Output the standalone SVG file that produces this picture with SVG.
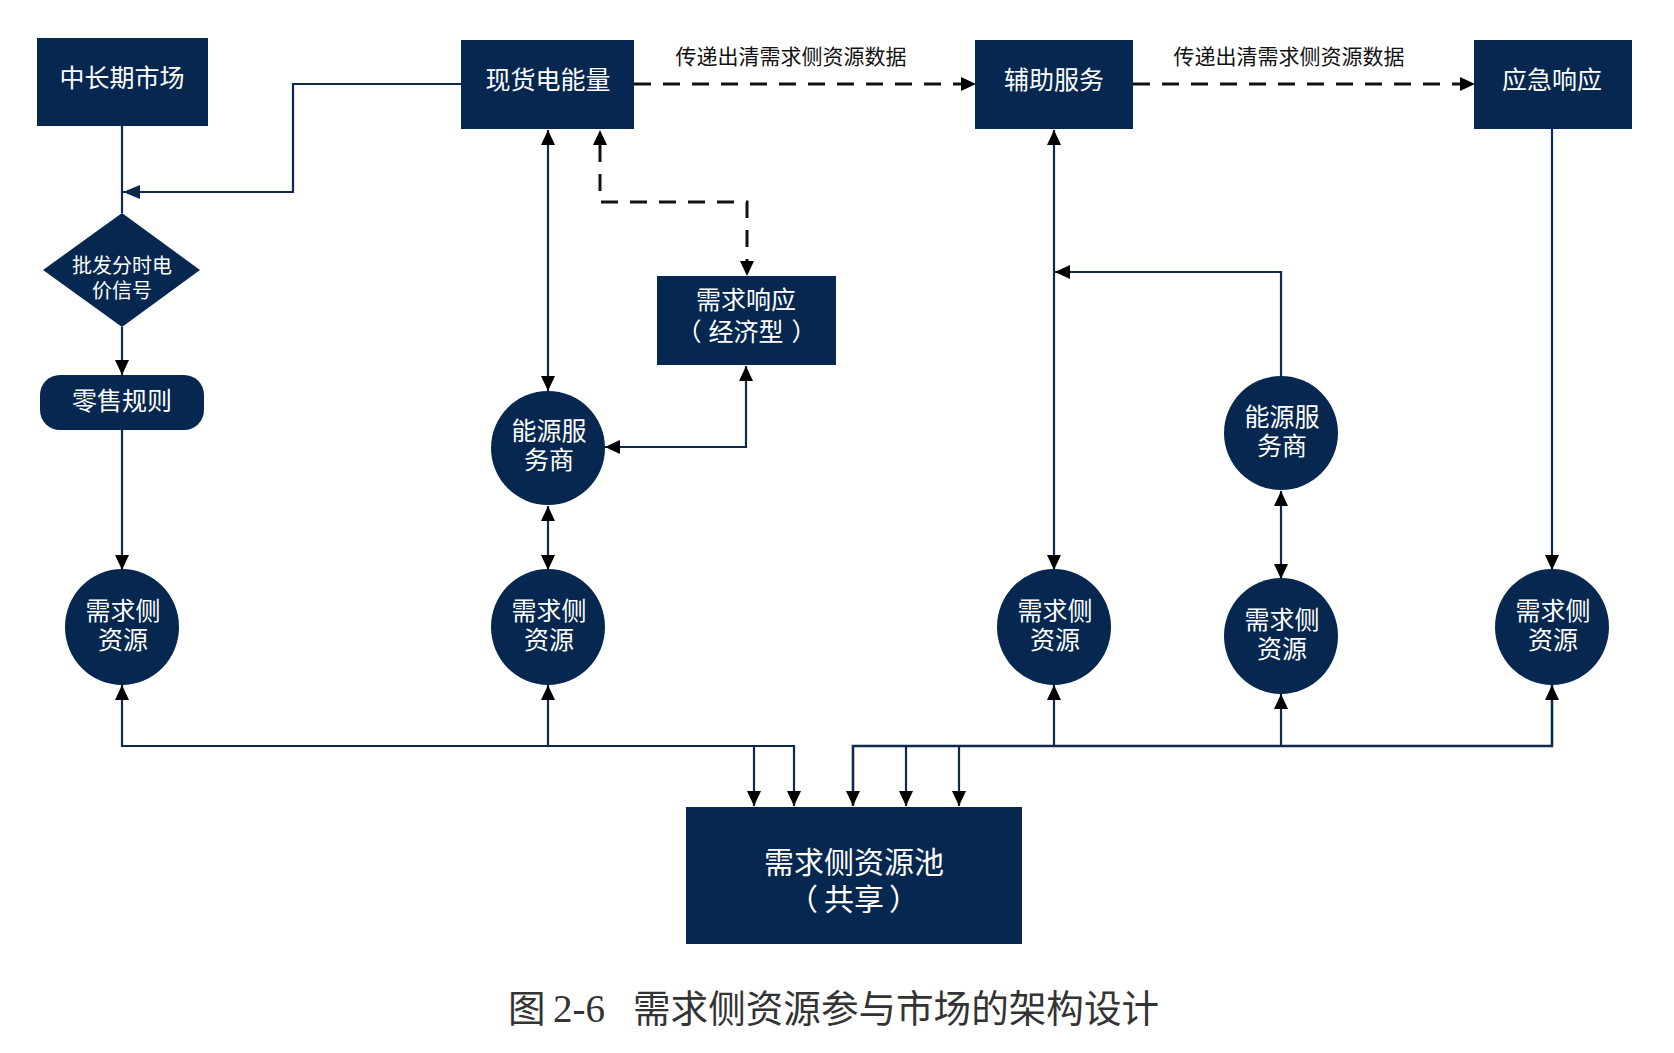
<svg xmlns="http://www.w3.org/2000/svg" width="1674" height="1053" viewBox="0 0 1674 1053">
<style>
.n{fill:#06274F;}
.t{fill:#fff;font-family:"Noto Sans CJK SC","Noto Sans",sans-serif;font-size:25px;text-anchor:middle;dominant-baseline:central;}
.ts{font-size:20px;}
.tp{font-size:30px;}
.lbl{fill:#111;font-family:"Noto Sans CJK SC","Noto Sans",sans-serif;font-size:21px;text-anchor:middle;dominant-baseline:central;}
.c{fill:none;stroke:#0D2A4E;stroke-width:2.2;}
.d{fill:none;stroke:#111;stroke-width:3;stroke-dasharray:17 12;}
.cap{fill:#333;font-size:37.6px;dominant-baseline:alphabetic;}
</style>
<defs>
<marker id="ab" markerUnits="userSpaceOnUse" markerWidth="16" markerHeight="16" viewBox="0 0 16 16" refX="15" refY="8" orient="auto-start-reverse">
<path d="M0,1 L15,8 L0,15 z" fill="#000"/>
</marker>
<marker id="an" markerUnits="userSpaceOnUse" markerWidth="18" markerHeight="16" viewBox="0 0 18 16" refX="17" refY="8" orient="auto-start-reverse">
<path d="M0,1 L17,8 L0,15 z" fill="#0D2A4E"/>
</marker>
</defs>
<rect width="1674" height="1053" fill="#fff"/>

<g id="connectors">
<path class="c" d="M461,84 H293 V192 H123" marker-end="url(#an)"/>
<path class="c" d="M122,126 V213"/>
<path class="c" d="M122,327 V375" marker-end="url(#ab)"/>
<path class="c" d="M122,430 V570" marker-end="url(#ab)"/>
<path class="c" d="M548,130 V391" marker-start="url(#ab)" marker-end="url(#ab)"/>
<path class="c" d="M548,506 V570" marker-start="url(#ab)" marker-end="url(#ab)"/>
<path class="c" d="M746,366 V447 H605" marker-start="url(#ab)" marker-end="url(#ab)"/>
<path class="d" d="M600,145 V202 H747 V262"/>
<path d="M600,130 L593,145 L607,145 z" fill="#000"/>
<path d="M747,276 L740,261 L754,261 z" fill="#000"/>
<path class="d" d="M634,84 H962"/>
<path d="M976,84 L961,77 L961,91 z" fill="#000"/>
<path class="d" d="M1133,84 H1461"/>
<path d="M1475,84 L1460,77 L1460,91 z" fill="#000"/>
<path class="c" d="M1054,130 V570" marker-start="url(#ab)" marker-end="url(#ab)"/>
<path class="c" d="M1281,376 V272 H1055" marker-end="url(#ab)"/>
<path class="c" d="M1281,491 V579" marker-start="url(#ab)" marker-end="url(#ab)"/>
<path class="c" d="M1552,129 V570" marker-end="url(#ab)"/>
<path class="c" d="M122,685 V746 H794 V806" marker-start="url(#ab)" marker-end="url(#ab)"/>
<path class="c" d="M548,685 V746" marker-start="url(#ab)"/>
<path class="c" d="M754,746 V806" marker-end="url(#ab)"/>
<path class="c" d="M1552,685 V746 H853 V806" marker-start="url(#ab)" marker-end="url(#ab)" style="stroke-width:2.6"/>
<path class="c" d="M1054,685 V746" marker-start="url(#ab)"/>
<path class="c" d="M1281,694 V746" marker-start="url(#ab)"/>
<path class="c" d="M906,746 V806" marker-end="url(#ab)"/>
<path class="c" d="M959,746 V806" marker-end="url(#ab)"/>
</g>

<g id="lbl1"><text class="lbl" x="791" y="55">传递出清需求侧资源数据</text></g>
<g id="lbl2"><text class="lbl" x="1289" y="55">传递出清需求侧资源数据</text></g>

<g id="n-zhongchangqi"><rect class="n" x="37" y="38" width="171" height="88"/><text class="t" x="122" y="76">中长期市场</text></g>
<g id="n-xianhuo"><rect class="n" x="461" y="40" width="173" height="89"/><text class="t" x="548" y="78">现货电能量</text></g>
<g id="n-fuzhu"><rect class="n" x="975" y="40" width="158" height="89"/><text class="t" x="1054" y="78">辅助服务</text></g>
<g id="n-yingji"><rect class="n" x="1474" y="40" width="158" height="89"/><text class="t" x="1552" y="78">应急响应</text></g>

<g id="n-pifa"><path class="n" d="M122,213 L200,270 L122,327 L43,270 z"/><text class="t ts"><tspan x="122" y="264">批发分时电</tspan><tspan x="122" y="289">价信号</tspan></text></g>
<g id="n-lingshou"><rect class="n" x="40" y="375" width="164" height="55" rx="20"/><text class="t" x="122" y="399">零售规则</text></g>

<g id="n-xuqiuxiangying"><rect class="n" x="657" y="276" width="179" height="89"/><text class="t"><tspan x="746" y="298">需求响应</tspan><tspan x="689" y="330">（</tspan><tspan x="746" y="330">经济型</tspan><tspan x="804" y="330">）</tspan></text></g>

<g id="n-nengyuan1"><ellipse class="n" cx="548" cy="448" rx="57" ry="57"/><text class="t"><tspan x="549" y="429">能源服</tspan><tspan x="549" y="458">务商</tspan></text></g>
<g id="n-nengyuan2"><ellipse class="n" cx="1281" cy="433" rx="57" ry="57"/><text class="t"><tspan x="1282" y="415">能源服</tspan><tspan x="1282" y="444">务商</tspan></text></g>

<g id="n-res1"><ellipse class="n" cx="122" cy="627" rx="57" ry="58"/><text class="t"><tspan x="123" y="609">需求侧</tspan><tspan x="123" y="638">资源</tspan></text></g>
<g id="n-res2"><ellipse class="n" cx="548" cy="627" rx="57" ry="58"/><text class="t"><tspan x="549" y="609">需求侧</tspan><tspan x="549" y="638">资源</tspan></text></g>
<g id="n-res3"><ellipse class="n" cx="1054" cy="627" rx="57" ry="58"/><text class="t"><tspan x="1055" y="609">需求侧</tspan><tspan x="1055" y="638">资源</tspan></text></g>
<g id="n-res4"><ellipse class="n" cx="1281" cy="636" rx="57" ry="58"/><text class="t"><tspan x="1282" y="618">需求侧</tspan><tspan x="1282" y="647">资源</tspan></text></g>
<g id="n-res5"><ellipse class="n" cx="1552" cy="627" rx="57" ry="58"/><text class="t"><tspan x="1553" y="609">需求侧</tspan><tspan x="1553" y="638">资源</tspan></text></g>

<g id="n-pool"><rect class="n" x="686" y="807" width="336" height="137"/><text class="t tp"><tspan x="854" y="860">需求侧资源池</tspan><tspan x="803" y="897">（</tspan><tspan x="854" y="897">共享</tspan><tspan x="904" y="897">）</tspan></text></g>

<g id="caption">
<text class="cap" x="508" y="1022" style="font-family:'Noto Sans CJK SC',sans-serif">图</text>
<text class="cap" x="553" y="1022" style="font-family:'Liberation Serif',serif;font-size:39px">2-6</text>
<text class="cap" x="633" y="1022" style="font-family:'Noto Sans CJK SC',sans-serif">需求侧资源参与市场的架构设计</text>
</g>
</svg>
